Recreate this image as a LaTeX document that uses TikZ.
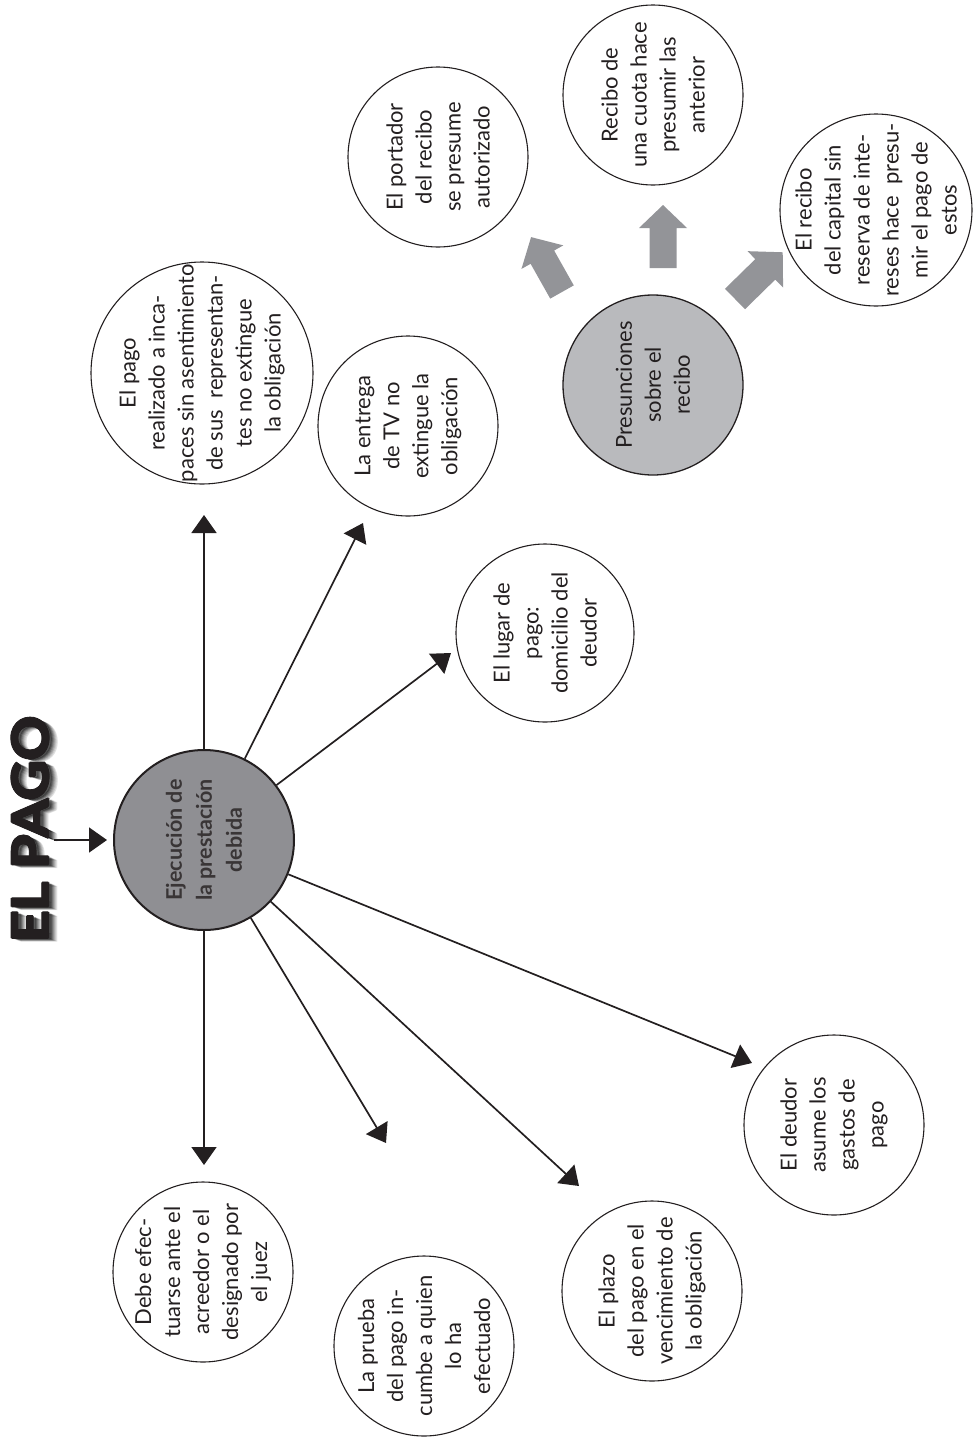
\documentclass[tikz,border=0pt]{standalone}
\usepackage{fontspec}
\setmainfont{Lato}
\newfontfamily\titlefont{Lato}[BoldFeatures={FakeBold=1.6}]
\usetikzlibrary{arrows.meta}
\definecolor{ink}{HTML}{231F20}
\definecolor{hubgray}{HTML}{8F8F93}
\definecolor{subhub}{HTML}{B9BABD}
\definecolor{blockgray}{HTML}{939498}

\begin{document}
\begin{tikzpicture}[x=1pt,y=-1pt,
  idea/.style={circle, draw=ink, line width=1.1pt, minimum size=180pt, inner sep=-80pt,
    rotate=90, align=center, text=ink, font=\fontsize{22}{29}\selectfont},
  hub/.style={idea, fill=hubgray, line width=2pt, text=ink!90,
    font=\bfseries\fontsize{21.5}{30}\selectfont},
  subhubnode/.style={idea, fill=subhub, line width=1.3pt},
  link/.style={draw=ink, line width=1.7pt, -{Triangle[length=18pt,width=25pt]}},
  blockarrow/.pic={\fill[blockgray] (0,-13.5) -- (40,-13.5) -- (40,-24) -- (63,0)
    -- (40,24) -- (40,13.5) -- (0,13.5) -- cycle;},
  titletext/.style={rotate=90, inner sep=0pt,
    font=\titlefont\bfseries\fontsize{50}{50}\selectfont},
]
\useasboundingbox (0,0) rectangle (976,1438);

% title with a soft drop shadow, thickened by slightly shifted copies
\foreach \o/\a in {9/0.07,8/0.09,7/0.11,6/0.14,5/0.18,4/0.22,3/0.26}
  \node[titletext, text=black, opacity=\a] at (30+\o,829+\o*0.4) {\scalebox{1.1}[1]{EL PAGO}};
\foreach \dx/\dy in {-0.8/0,0.8/0,0/-0.8,0/0.8}
  \node[titletext, text=ink] at (30+\dx,829+\dy) {\scalebox{1.1}[1]{EL PAGO}};
\node[titletext, text=ink] (title) at (30,829) {\scalebox{1.1}[1]{EL PAGO}};

% central idea
\node[hub] (hub) at (204,840) {Ejecución de\\la prestación\\debida};

% consequences of the payment
\node[idea, minimum size=222pt] (incapaces) at (202,373)
  {El pago\\realizado a inca-\\paces sin asentimiento\\de sus~ representan-\\tes no extingue\\la obligación};
\node[idea] (tv) at (408,426) {La entrega\\de TV no\\extingue la\\obligación};
\node[idea, minimum size=178pt] (lugar) at (545,633) {El lugar de\\pago:\\domicilio del\\deudor};
\node[idea] (juez) at (203,1272) {Debe efec-\\tuarse ante el\\acreedor o el\\designado por\\el juez};
\node[idea] (prueba) at (424,1346) {La prueba\\del pago in-\\cumbe a quien\\lo ha\\efectuado};
\node[idea] (plazo) at (652,1291) {El plazo\\del pago en el\\vencimiento de\\la obligación};
\node[idea] (gastos) at (834,1125) {El deudor\\asume los\\gastos de\\pago};

% presumptions about the receipt
\node[subhubnode] (presun) at (653,385) {Presunciones\\sobre el\\recibo};
\node[idea] (portador) at (438,157) {El portador\\del recibo\\se presume\\autorizado};
\node[idea] (cuota) at (653,95) {Recibo de\\una cuota hace\\presumir las\\anterior};
\node[idea, minimum size=192pt] (capital) at (876,210)
  {El recibo\\del capital sin\\reserva de inte-\\reses hace~ presu-\\mir el pago de\\estos};

% arrow tips
\coordinate (tstart) at (54,840);
\coordinate (tUp) at (204,515);
\coordinate (tTV) at (363,523);
\coordinate (tLugar) at (451,653);
\coordinate (tGastos) at (752,1063);
\coordinate (tPlazo) at (579,1186);
\coordinate (tPrueba) at (386,1143);
\coordinate (tDown) at (204,1165);

\draw[link, shorten >=6pt] (tstart) -- (hub);
\draw[link] (hub) -- (tUp);
\draw[link] (hub) -- (tTV);
\draw[link] (hub) -- (tLugar);
\draw[link] (hub) -- (tGastos);
\draw[link] (hub) -- (tPlazo);
\draw[link] (hub) -- (tPrueba);
\draw[link] (hub) -- (tDown);

% block arrows out of the presumptions
\pic[rotate=119.4] at (562,292) {blockarrow};
\pic[rotate=90] at (663,268) {blockarrow};
\pic[rotate=44.4, scale=1.06] at (735,299) {blockarrow};
\end{tikzpicture}
\end{document}
